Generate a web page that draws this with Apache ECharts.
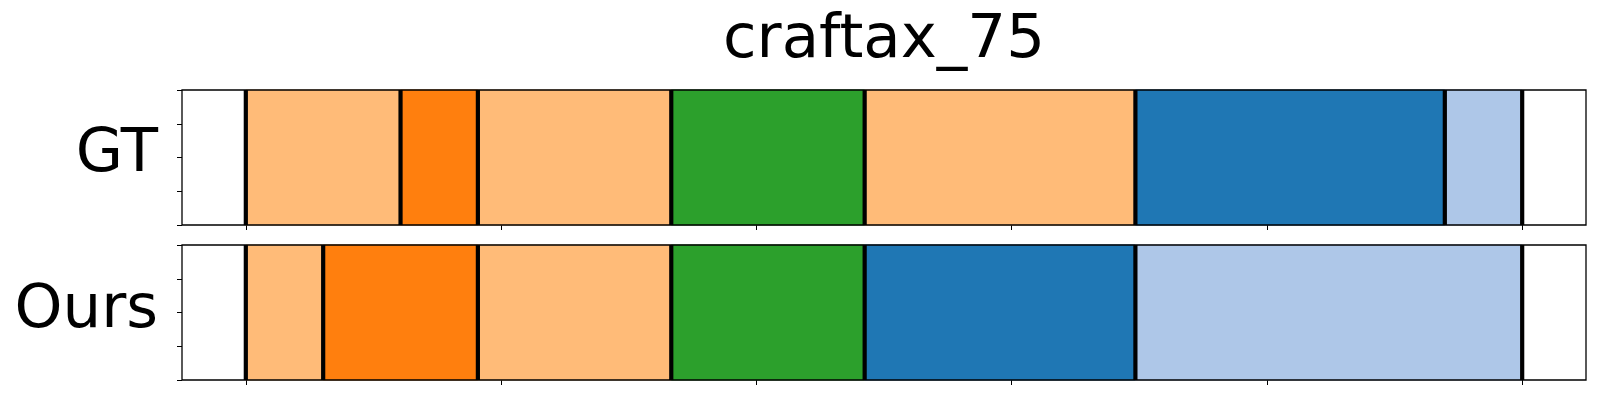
<!DOCTYPE html>
<html>
<head>
<meta charset="utf-8">
<script src="https://cdn.jsdelivr.net/npm/echarts@6/dist/echarts.min.js"></script>
<style>
html,body{margin:0;padding:0;background:#fff;}
#main{width:1600px;height:400px;}
</style>
</head>
<body>
<div id="main"></div>
<script>
// ---- data (frame indices of segment boundaries, 33 frames total) ----
const title = 'craftax_75';
const rowLabels = ['GT', 'Ours'];
const gtBounds = [0, 4, 6, 11, 16, 23, 31, 33];
const gtClasses = ['peach', 'orange', 'peach', 'green', 'peach', 'blue', 'lightblue'];
const oursBounds = [0, 2, 6, 11, 16, 23, 33];
const oursClasses = ['peach', 'orange', 'peach', 'green', 'blue', 'lightblue'];
const xTickValues = [0, 6.6, 13.2, 19.8, 26.4, 33];
const yTickValues = [0, 0.25, 0.5, 0.75, 1];
const classColors = {
  blue: '#1f77b4', lightblue: '#aec7e8', orange: '#ff7f0e',
  peach: '#ffbb78', green: '#2ca02c'
};

function segs(bounds, classes) {
  const out = [];
  for (let i = 0; i < classes.length; i++) out.push([bounds[i], bounds[i + 1], classes[i]]);
  return out;
}

const grids = [
  {left: 182, right: 14, top: 90, height: 135},
  {left: 182, right: 14, top: 245, height: 135}
];

function rectSeries(idx, data) {
  return {
    type: 'custom', xAxisIndex: idx, yAxisIndex: idx,
    data: data.map(d => [d[0], d[1]]),
    encode: {x: [0, 1]},
    renderItem: function (params, api) {
      const s = api.coord([api.value(0), 1]);
      const e = api.coord([api.value(1), 0]);
      const cls = data[params.dataIndex][2];
      return {
        type: 'rect',
        shape: {x: s[0], y: s[1], width: e[0] - s[0], height: e[1] - s[1]},
        style: {fill: classColors[cls], stroke: classColors[cls], lineWidth: 1}
      };
    },
    z: 2
  };
}
function lineSeries(idx, bounds) {
  return {
    type: 'custom', xAxisIndex: idx, yAxisIndex: idx,
    data: bounds.map(b => [b]),
    encode: {x: 0},
    renderItem: function (params, api) {
      const top = api.coord([api.value(0), 1]);
      const bot = api.coord([api.value(0), 0]);
      return {
        type: 'line',
        shape: {x1: top[0], y1: top[1], x2: bot[0], y2: bot[1]},
        style: {stroke: '#000', lineWidth: 4.2}
      };
    },
    z: 3
  };
}

function xAxis(idx) {
  return {
    type: 'value', gridIndex: idx, min: -1.65, max: 34.65,
    splitLine: {show: false},
    axisLine: {show: false, onZero: false},
    axisTick: {show: true, inside: false, length: 5, customValues: xTickValues,
      lineStyle: {color: '#000', width: 1}},
    axisLabel: {show: false, customValues: xTickValues}
  };
}
function yAxis(idx) {
  return {
    type: 'value', gridIndex: idx, min: 0, max: 1,
    splitLine: {show: false},
    axisLine: {show: false, onZero: false},
    axisTick: {show: true, inside: false, length: 5, customValues: yTickValues,
      lineStyle: {color: '#000', width: 1}},
    axisLabel: {show: false, customValues: yTickValues}
  };
}

const chart = echarts.init(document.getElementById('main'), null, {renderer: 'canvas'});
chart.setOption({
  animation: false,
  backgroundColor: '#fff',
  grid: grids.map(g => Object.assign({show: true, borderColor: '#000', borderWidth: 1.3,
    backgroundColor: 'transparent', z: 10}, g)),
  xAxis: [xAxis(0), xAxis(1)],
  yAxis: [yAxis(0), yAxis(1)],
  series: [
    rectSeries(0, segs(gtBounds, gtClasses)),
    lineSeries(0, gtBounds),
    rectSeries(1, segs(oursBounds, oursClasses)),
    lineSeries(1, oursBounds)
  ],
  graphic: [
    {type: 'text', x: 884, y: 41, z: 100,
      style: {text: title, font: '61px "DejaVu Sans"', fill: '#000', align: 'center', verticalAlign: 'middle'}},
    {type: 'text', x: 158, y: 155, z: 100,
      style: {text: rowLabels[0], font: '61px "DejaVu Sans"', fill: '#000', align: 'right', verticalAlign: 'middle'}},
    {type: 'text', x: 158, y: 311, z: 100,
      style: {text: rowLabels[1], font: '61px "DejaVu Sans"', fill: '#000', align: 'right', verticalAlign: 'middle'}}
  ]
});
</script>
</body>
</html>
